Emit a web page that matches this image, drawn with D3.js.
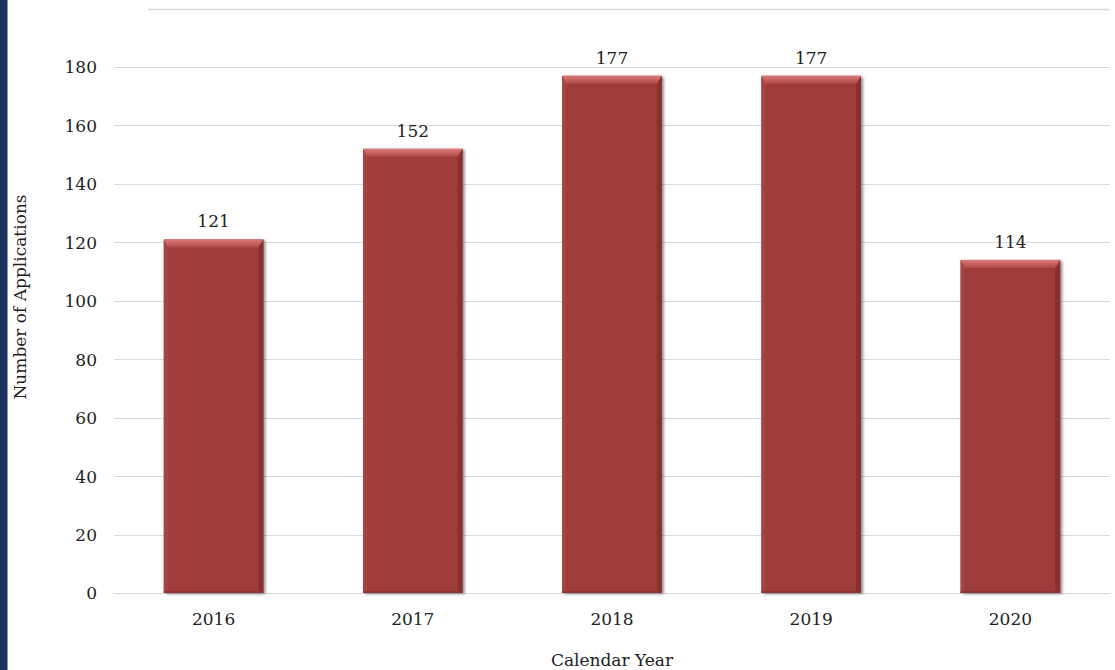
<!DOCTYPE html>
<html>
<head>
<meta charset="utf-8">
<script src="https://cdn.jsdelivr.net/npm/d3@7/dist/d3.min.js"></script>
<style>
  html, body { margin: 0; padding: 0; background: #fff; }
  svg { display: block; }
  text { font-family: "DejaVu Serif", Georgia, serif; fill: #1e1e1e; }
</style>
</head>
<body>
<svg id="chart" width="1115" height="670"></svg>
<script>
// Applications per calendar year
const years = ["2016", "2017", "2018", "2019", "2020"];
const applications = [121, 152, 177, 177, 114];
const yTicks = [0, 20, 40, 60, 80, 100, 120, 140, 160, 180];

const W = 1115, H = 670;
const margin = { left: 114, right: 5, top: 8.6, bottom: 77 };
const FS = 17;

const svg = d3.select("#chart");

// dark side strip
svg.append("rect").attr("x", 0).attr("y", 0).attr("width", 7.5).attr("height", H).attr("fill", "#1b305d");

const x = d3.scaleBand().domain(years).range([margin.left, W - margin.right]).paddingInner(0.5).paddingOuter(0.25);
const y = d3.scaleLinear().domain([0, 200]).range([H - margin.bottom, margin.top]);

const defs = svg.append("defs");
const shadow = defs.append("filter").attr("id", "shadow").attr("x", "-10%").attr("y", "-10%").attr("width", "130%").attr("height", "130%");
shadow.append("feGaussianBlur").attr("in", "SourceAlpha").attr("stdDeviation", 1.6).attr("result", "b");
shadow.append("feOffset").attr("in", "b").attr("dx", 2).attr("dy", 1).attr("result", "o");
shadow.append("feComponentTransfer").attr("in", "o").attr("result", "s")
  .append("feFuncA").attr("type", "linear").attr("slope", 0.45);
const m = shadow.append("feMerge");
m.append("feMergeNode").attr("in", "s");
m.append("feMergeNode").attr("in", "SourceGraphic");

const topGrad = defs.append("linearGradient").attr("id", "topBevel").attr("x1", 0).attr("y1", 0).attr("x2", 0).attr("y2", 1);
topGrad.append("stop").attr("offset", "0%").attr("stop-color", "#dc7878");
topGrad.append("stop").attr("offset", "100%").attr("stop-color", "#b04a49");

// gridlines
const grid = svg.append("g");
grid.selectAll("line.g").data(yTicks).join("line")
  .attr("x1", margin.left).attr("x2", W - margin.right)
  .attr("y1", d => Math.round(y(d)) + 0.5).attr("y2", d => Math.round(y(d)) + 0.5)
  .attr("stroke", "#d9d9d9").attr("stroke-width", 1);
grid.append("line")
  .attr("x1", 148).attr("x2", W - margin.right)
  .attr("y1", Math.round(y(200)) + 0.5).attr("y2", Math.round(y(200)) + 0.5)
  .attr("stroke", "#d9d9d9").attr("stroke-width", 1.5);

// y axis labels
const yAxis = d3.axisLeft(y).tickValues(yTicks).tickSize(0).tickPadding(0);
const ya = svg.append("g").attr("transform", `translate(${margin.left - 17},0)`).call(yAxis);
ya.select(".domain").remove();
ya.selectAll("text").attr("font-size", FS).attr("font-family", "DejaVu Serif, serif").attr("fill", "#1e1e1e").attr("dy", "0.35em");

// x axis labels
const xAxis = d3.axisBottom(x).tickSize(0).tickPadding(0);
const xa = svg.append("g").attr("transform", `translate(0,${y(0) + 20})`).call(xAxis);
xa.select(".domain").remove();
xa.selectAll("text").attr("font-size", FS).attr("font-family", "DejaVu Serif, serif").attr("fill", "#1e1e1e");

// bars with bevelled edges
const bev = 8;
const bars = svg.append("g").selectAll("g").data(years.map((k, i) => ({ k, v: applications[i] }))).join("g");
bars.each(function(d) {
  const g = d3.select(this);
  const x0 = x(d.k), w = x.bandwidth(), y0 = y(d.v), y1 = y(0);
  g.append("rect").attr("x", x0).attr("y", y0).attr("width", w).attr("height", y1 - y0)
    .attr("fill", "#9e3b3a").attr("filter", "url(#shadow)");
  // left edge
  g.append("path").attr("d", `M${x0},${y0}L${x0 + 4},${y0 + bev}L${x0 + 4},${y1}L${x0},${y1}Z`).attr("fill", "#a74443");
  // right edge
  g.append("path").attr("d", `M${x0 + w},${y0}L${x0 + w - 5},${y0 + bev}L${x0 + w - 5},${y1}L${x0 + w},${y1}Z`).attr("fill", "#88302f");
  // top bevel
  g.append("path").attr("d", `M${x0},${y0}L${x0 + w},${y0}L${x0 + w - 5},${y0 + bev}L${x0 + 4},${y0 + bev}Z`).attr("fill", "url(#topBevel)");
  // bottom edge
  g.append("rect").attr("x", x0).attr("y", y1 - 2).attr("width", w).attr("height", 2).attr("fill", "#8e3534");
});

// value labels
svg.append("g").selectAll("text").data(years.map((k, i) => ({ k, v: applications[i] }))).join("text")
  .attr("x", d => x(d.k) + x.bandwidth() / 2)
  .attr("y", d => y(d.v) - 12)
  .attr("text-anchor", "middle").attr("font-size", FS)
  .text(d => d.v);

// axis titles
svg.append("text").attr("x", 612).attr("y", 666)
  .attr("text-anchor", "middle").attr("font-size", FS).text("Calendar Year");
svg.append("text").attr("transform", `translate(26,297) rotate(-90)`)
  .attr("text-anchor", "middle").attr("font-size", FS).text("Number of Applications");
</script>
</body>
</html>
